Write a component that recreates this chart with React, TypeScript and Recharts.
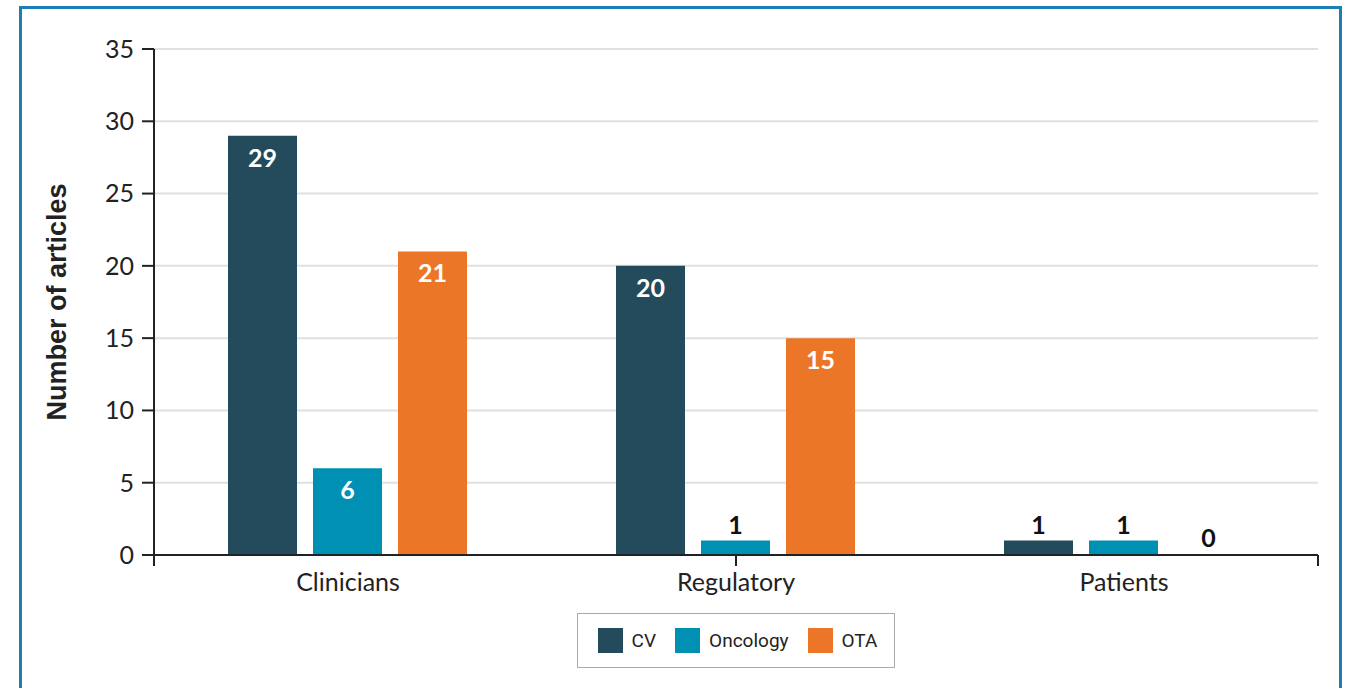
import React from "react";
import { BarChart, Bar, Cell, XAxis, YAxis, CartesianGrid, Legend } from "recharts";

const categories = ["Clinicians", "Regulatory", "Patients"];
const cvValues = [29, 20, 1];
const oncologyValues = [6, 1, 1];
const otaValues = [21, 15, 0];
const yTicks = [0, 5, 10, 15, 20, 25, 30, 35];
const bandEdges = [0, 1, 2, 3];

const series = [
  { key: "cv", name: "CV", color: "#234b5b", values: cvValues },
  { key: "oncology", name: "Oncology", color: "#0090b4", values: oncologyValues },
  { key: "ota", name: "OTA", color: "#ec7627", values: otaValues },
];

const data = categories.map((category, i) => ({
  category,
  cv: cvValues[i],
  oncology: oncologyValues[i],
  ota: otaValues[i],
}));

const FONT = "Lato, 'Open Sans', sans-serif";
const INK = "#222";

function renderValueLabel(props: any) {
  const { x, y, width, height, value } = props;
  const inside = height > 40;
  return (
    <text
      x={x + width / 2}
      y={inside ? y + 21 : y - 17}
      textAnchor="middle"
      dominantBaseline="central"
      fontFamily={FONT}
      fontWeight={700}
      fontSize={25}
      fill={inside ? "#fff" : "#111"}
    >
      {value}
    </text>
  );
}

// boundary axis only draws its tick marks, no text
const emptyTick = () => <g />;

function LegendBox() {
  return (
    <div style={{ display: "flex", justifyContent: "center" }}>
      <div
        style={{
          display: "flex",
          alignItems: "center",
          height: 55,
          boxSizing: "border-box",
          border: "1.5px solid #aaa",
          padding: "0 17px 0 20px",
          fontFamily: "Roboto, sans-serif",
          fontSize: 19,
          color: INK,
        }}
      >
        {series.map((s, i) => (
          <div key={s.key} style={{ display: "flex", alignItems: "center", marginLeft: i === 0 ? 0 : 19 }}>
            <span style={{ width: 25, height: 25, background: s.color, marginRight: 9 }} />
            <span>{s.name}</span>
          </div>
        ))}
      </div>
    </div>
  );
}

export default function App() {
  return (
    <div style={{ position: "absolute", left: 0, top: 0, width: 1352, height: 688, overflow: "hidden", background: "#fff" }}>
      <div
        style={{
          position: "absolute",
          left: 19,
          top: 6,
          width: 1323,
          height: 720,
          boxSizing: "border-box",
          border: "3px solid #1b7fb6",
        }}
      />
      <div style={{ position: "absolute", left: 0, top: 0 }}>
        <BarChart
          width={1352}
          height={688}
          data={data}
          margin={{ top: 49, right: 34, left: 0, bottom: 20 }}
          barCategoryGap={74}
          barGap={16}
        >
          <CartesianGrid xAxisId="zCat" vertical={false} stroke="#e0e0e0" strokeWidth={2} />
          <XAxis
            xAxisId="aEdges"
            type="number"
            domain={[0, 3]}
            ticks={bandEdges}
            interval={0}
            allowDataOverflow
            height={1}
            tick={emptyTick}
            tickSize={11}
            tickLine={{ stroke: INK, strokeWidth: 2 }}
            axisLine={{ stroke: INK, strokeWidth: 2 }}
          />
          <XAxis
            xAxisId="zCat"
            dataKey="category"
            height={57}
            axisLine={false}
            tickLine={false}
            tickSize={0}
            tickMargin={17}
            tick={{ fontFamily: FONT, fontSize: 25, fill: INK }}
          />
          <YAxis
            width={154}
            domain={[0, 35]}
            ticks={yTicks}
            interval={0}
            tickSize={12}
            tickMargin={8}
            tick={{ fontFamily: FONT, fontSize: 25, fill: INK }}
            tickLine={{ stroke: INK, strokeWidth: 2 }}
            axisLine={{ stroke: INK, strokeWidth: 2 }}
            label={{
              value: "Number of articles",
              angle: -90,
              position: "insideLeft",
              offset: 56,
              style: {
                textAnchor: "middle",
                fontFamily: "'Liberation Sans', Arial, sans-serif",
                fontWeight: 700,
                fontSize: 27,
                fill: INK,
              },
            }}
          />
          <Legend
            verticalAlign="bottom"
            height={55}
            content={() => <LegendBox />}
            wrapperStyle={{ left: 154, width: 1164 }}
          />
          {series.map((s) => (
            <Bar
              key={s.key}
              xAxisId="zCat"
              dataKey={s.key}
              name={s.name}
              fill={s.color}
              minPointSize={1}
              isAnimationActive={false}
              label={renderValueLabel}
            >
              {s.values.map((v, i) => (
                <Cell key={i} fill={v === 0 ? "transparent" : s.color} />
              ))}
            </Bar>
          ))}
        </BarChart>
      </div>
    </div>
  );
}
